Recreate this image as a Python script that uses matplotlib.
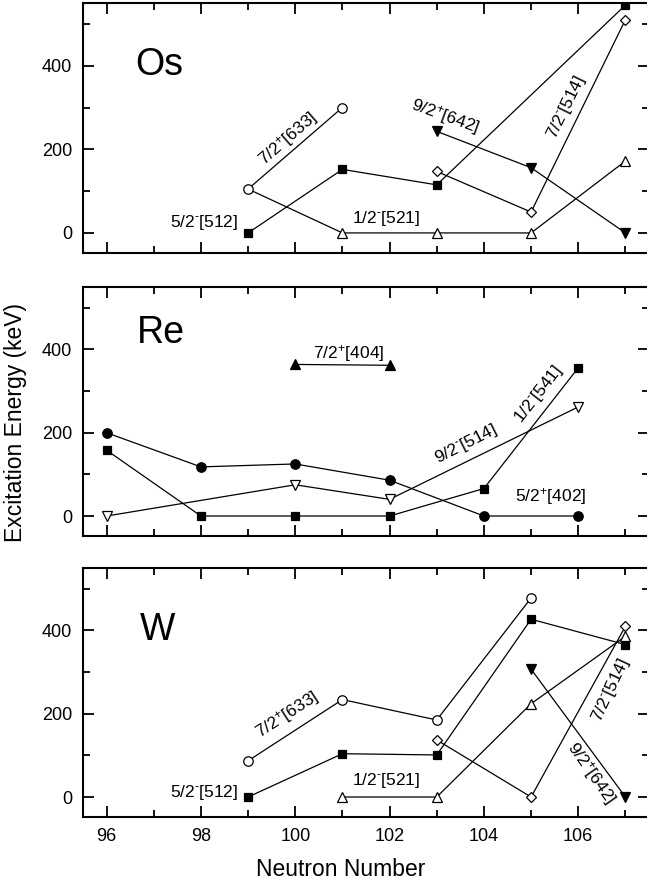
import matplotlib
matplotlib.use('Agg')

import matplotlib.pyplot as plt
from matplotlib.ticker import MultipleLocator

plt.rcParams['font.family'] = ['Liberation Sans', 'DejaVu Sans']
plt.rcParams['mathtext.fontset'] = 'custom'
plt.rcParams['mathtext.rm'] = 'Liberation Sans'
plt.rcParams['mathtext.it'] = 'Liberation Sans:italic'
plt.rcParams['mathtext.bf'] = 'Liberation Sans:bold'

# Os bands: neutron number -> excitation energy (keV)
os_512_n = [99, 101, 103, 107]
os_512_e = [0, 152, 115, 545]
os_633_n = [99, 101]
os_633_e = [105, 300]
os_521_n = [99, 101, 103, 105, 107]
os_521_e = [105, 0, 0, 0, 172]
os_642_n = [103, 105, 107]
os_642_e = [243, 156, 0]
os_514_n = [103, 105, 107]
os_514_e = [147, 50, 510]

# Re bands
re_402_n = [96, 98, 100, 102, 104, 106]
re_402_e = [200, 118, 125, 86, 0, 0]
re_541_n = [96, 98, 100, 102, 104, 106]
re_541_e = [158, 0, 0, 0, 66, 356]
re_514_n = [96, 100, 102, 106]
re_514_e = [0, 75, 40, 262]
re_404_n = [100, 102]
re_404_e = [364, 362]

# W bands
w_633_n = [99, 101, 103, 105]
w_633_e = [87, 234, 185, 478]
w_512_n = [99, 101, 103, 105, 107]
w_512_e = [0, 104, 101, 427, 366]
w_521_n = [101, 103, 105, 107]
w_521_e = [0, 0, 224, 386]
w_514_n = [103, 105, 107]
w_514_e = [137, 0, 410]
w_642_n = [105, 107]
w_642_e = [307, 0]

x_ticks = [96, 98, 100, 102, 104, 106]
y_ticks = [0, 200, 400]

LW = 0.9
MS = 6.8
SUP_M = '$^{\u2010}$'   # small raised hyphen for negative parity
SUP_P = '$^{+}$'


def band(ax, n, e, marker, filled, ms=MS, markevery=None):
    ax.plot(n, e, color='black', linewidth=LW, marker=marker, markersize=ms,
            markerfacecolor='black' if filled else 'white',
            markeredgecolor='black', markeredgewidth=0.9,
            markevery=markevery, zorder=3)


def label(ax, x, y, text, rot=0, ha='center', size=12.5):
    ax.text(x, y, text, rotation=rot, ha=ha, va='center', fontsize=size,
            rotation_mode='anchor', zorder=4)


fig = plt.figure(figsize=(6.47, 8.90), dpi=100)
W_FIG, H_FIG = 647.0, 890.0
left = 83 / W_FIG
width = (649 - 83) / W_FIG
panel_px = [(3, 253), (287, 536), (568, 817)]
axes = []
for top, bottom in panel_px:
    ax = fig.add_axes([left, 1 - bottom / H_FIG, width, (bottom - top) / H_FIG])
    axes.append(ax)

for ax in axes:
    ax.set_xlim(95.5, 107.5)
    ax.set_ylim(-48, 550)
    ax.set_xticks(x_ticks)
    ax.xaxis.set_minor_locator(MultipleLocator(1))
    ax.set_yticks(y_ticks)
    ax.yaxis.set_minor_locator(MultipleLocator(100))
    ax.tick_params(which='both', direction='in', top=True, right=True,
                   labelsize=13, width=1.3)
    ax.tick_params(which='major', length=8)
    ax.tick_params(which='minor', length=5)
    ax.tick_params(axis='y', pad=8)
    ax.tick_params(axis='x', pad=8)
    for sp in ax.spines.values():
        sp.set_linewidth(1.5)
    if ax is not axes[-1]:
        ax.tick_params(axis='x', labelbottom=False)

# Os
ax = axes[0]
band(ax, os_521_n, os_521_e, '^', False, markevery=[1, 2, 3, 4])
band(ax, os_633_n, os_633_e, 'o', False)
band(ax, os_512_n, os_512_e, 's', True, ms=6)
band(ax, os_642_n, os_642_e, 'v', True)
band(ax, os_514_n, os_514_e, 'D', False, ms=5.4)
ax.text(96.6, 402, 'Os', fontsize=27, ha='left', va='center')
label(ax, 99.85, 225, '7/2' + SUP_P + '[633]', rot=41)
label(ax, 98.8, 26, '5/2' + SUP_M + '[512]', ha='right')
label(ax, 101.93, 34, '1/2' + SUP_M + '[521]')
label(ax, 103.17, 280, '9/2' + SUP_P + '[642]', rot=-20)
label(ax, 105.75, 300, '7/2' + SUP_M + '[514]', rot=64)

# Re
ax = axes[1]
band(ax, re_402_n, re_402_e, 'o', True)
band(ax, re_541_n, re_541_e, 's', True, ms=6)
band(ax, re_514_n, re_514_e, 'v', False)
band(ax, re_404_n, re_404_e, '^', True)
ax.text(96.65, 440, 'Re', fontsize=27, ha='left', va='center')
label(ax, 101.13, 390, '7/2' + SUP_P + '[404]')
label(ax, 103.62, 172, '9/2' + SUP_M + '[514]', rot=27)
label(ax, 105.16, 292, '1/2' + SUP_M + '[541]', rot=52)
label(ax, 105.42, 48, '5/2' + SUP_P + '[402]')

# W
ax = axes[2]
band(ax, w_633_n, w_633_e, 'o', False)
band(ax, w_512_n, w_512_e, 's', True, ms=6)
band(ax, w_521_n, w_521_e, '^', False)
band(ax, w_514_n, w_514_e, 'D', False, ms=5.4)
band(ax, w_642_n, w_642_e, 'v', True)
ax.text(96.7, 402, 'W', fontsize=27, ha='left', va='center')
label(ax, 99.82, 198, '7/2' + SUP_P + '[633]', rot=33)
label(ax, 98.8, 10, '5/2' + SUP_M + '[512]', ha='right')
label(ax, 101.93, 40, '1/2' + SUP_M + '[521]')
label(ax, 106.7, 256, '7/2' + SUP_M + '[514]', rot=65)
label(ax, 106.28, 57, '9/2' + SUP_P + '[642]', rot=-55)

# axis titles placed in figure pixels
fig.text(341 / W_FIG, 1 - 870 / H_FIG, 'Neutron Number', fontsize=16.5,
         ha='center', va='center')
fig.text(0.024, 0.525, 'Excitation Energy (keV)', rotation=90, fontsize=16.5,
         ha='center', va='center')

fig.savefig('out.png', dpi=100)
plt.close(fig)
